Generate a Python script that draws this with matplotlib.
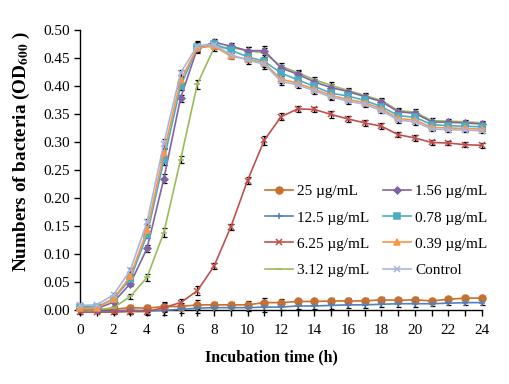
import numpy as np
import matplotlib
matplotlib.use("Agg")
import matplotlib.pyplot as plt
from matplotlib.ticker import MultipleLocator

plt.rcParams["font.family"] = ["Liberation Serif", "DejaVu Serif"]
plt.rcParams["mathtext.fontset"] = "stix"

hours = list(range(25))

labels = ["25 µg/mL", "12.5 µg/mL", "6.25 µg/mL", "3.12 µg/mL",
          "1.56 µg/mL", "0.78 µg/mL", "0.39 µg/mL", "Control"]

od_25 = [0.004, 0.001, 0.001, 0.004, 0.003, 0.006, 0.006, 0.009, 0.009, 0.009,
         0.009, 0.013, 0.013, 0.015, 0.015, 0.016, 0.016, 0.016, 0.018, 0.017,
         0.018, 0.016, 0.019, 0.021, 0.021]
od_12_5 = [0.002, -0.002, -0.002, -0.001, -0.002, -0.001, 0.001, 0.003, 0.004, 0.004,
           0.004, 0.005, 0.005, 0.007, 0.007, 0.008, 0.009, 0.009, 0.010, 0.011,
           0.011, 0.011, 0.012, 0.013, 0.013]
od_6_25 = [-0.004, -0.004, -0.004, -0.003, -0.003, 0.004, 0.013, 0.034, 0.078, 0.148,
           0.231, 0.303, 0.345, 0.359, 0.358, 0.349, 0.341, 0.334, 0.328, 0.313,
           0.307, 0.299, 0.298, 0.295, 0.294]
od_3_12 = [0.000, 0.000, 0.004, 0.024, 0.058, 0.138, 0.268, 0.403, 0.468, 0.469,
           0.463, 0.459, 0.435, 0.424, 0.411, 0.401, 0.392, 0.383, 0.374, 0.356,
           0.353, 0.338, 0.337, 0.336, 0.334]
od_1_56 = [0.003, 0.002, 0.014, 0.047, 0.110, 0.234, 0.378, 0.467, 0.478, 0.471,
           0.463, 0.463, 0.432, 0.421, 0.407, 0.397, 0.390, 0.381, 0.372, 0.354,
           0.351, 0.336, 0.335, 0.334, 0.332]
od_0_78 = [0.006, 0.005, 0.020, 0.055, 0.134, 0.267, 0.399, 0.470, 0.475, 0.464,
           0.452, 0.444, 0.423, 0.411, 0.399, 0.387, 0.382, 0.374, 0.363, 0.347,
           0.344, 0.331, 0.329, 0.328, 0.327]
od_0_39 = [0.003, 0.003, 0.020, 0.060, 0.142, 0.280, 0.410, 0.468, 0.471, 0.453,
           0.448, 0.441, 0.412, 0.405, 0.394, 0.383, 0.376, 0.370, 0.359, 0.342,
           0.339, 0.326, 0.325, 0.324, 0.323]
od_control = [0.008, 0.009, 0.027, 0.071, 0.157, 0.297, 0.423, 0.472, 0.474, 0.456,
              0.446, 0.439, 0.408, 0.402, 0.391, 0.380, 0.373, 0.367, 0.356, 0.339,
              0.336, 0.323, 0.322, 0.321, 0.320]

# standard deviation per hour
sd = [0.003, 0.002, 0.003, 0.004, 0.006, 0.008, 0.006, 0.008, 0.005, 0.005,
      0.006, 0.008, 0.006, 0.005, 0.005, 0.006, 0.005, 0.005, 0.005, 0.005,
      0.005, 0.004, 0.004, 0.004, 0.004]

series = [od_25, od_12_5, od_6_25, od_3_12, od_1_56, od_0_78, od_0_39, od_control]
colors = ["#C8702F", "#4F81BD", "#C0504D", "#9BBB59",
          "#8064A2", "#4BACC6", "#F79646", "#A9B5DA"]
markers = ["o", "+", "x", "_", "D", "s", "^", "x"]
msizes = [5, 4, 4, 5, 3.5, 4.5, 5, 4.5]

fig = plt.figure(figsize=(5.1, 3.84), dpi=100)
ax = fig.add_axes([0.157, 0.193, 0.788, 0.729])

for vals, lab, c, m, ms in zip(series, labels, colors, markers, msizes):
    ax.errorbar(hours, vals, yerr=sd, fmt="none", ecolor="black",
                elinewidth=0.9, capsize=1.8, capthick=0.9, clip_on=False, zorder=2)
    ax.plot(hours, vals, color=c, marker=m, markersize=ms, linewidth=1.2,
            markeredgewidth=1.1, label=lab, clip_on=False, zorder=3)

ax.set_xlim(0, 24)
ax.set_ylim(0, 0.5)
ax.xaxis.set_major_locator(MultipleLocator(2))
ax.xaxis.set_minor_locator(MultipleLocator(1))
ax.yaxis.set_major_locator(MultipleLocator(0.05))
ax.yaxis.set_major_formatter(matplotlib.ticker.FormatStrFormatter("%.2f"))
ax.spines["top"].set_visible(False)
ax.spines["right"].set_visible(False)
ax.spines["left"].set_linewidth(1.0)
ax.spines["bottom"].set_linewidth(1.0)
ax.tick_params(axis="both", which="both", direction="out", length=4, width=1.0,
               labelsize=11)
ax.tick_params(axis="x", pad=6)

ax.set_xlabel("Incubation time (h)", fontsize=11.5, fontweight="bold")
ax.xaxis.set_label_coords(0.475, -0.14)
ax.set_ylabel(r"Numbers of bacteria (OD$_{\mathbf{600}}$ )", fontsize=13.8,
              fontweight="bold")
ax.yaxis.set_label_coords(-0.119, 0.568)

ax.legend(loc="upper left", bbox_to_anchor=(0.52, 0.519), bbox_transform=fig.transFigure,
          ncol=2, frameon=False, fontsize=11, borderpad=0, borderaxespad=0,
          handlelength=1.8, handletextpad=0.3, columnspacing=0.9, labelspacing=0.82)

fig.savefig("out.png", dpi=100)
